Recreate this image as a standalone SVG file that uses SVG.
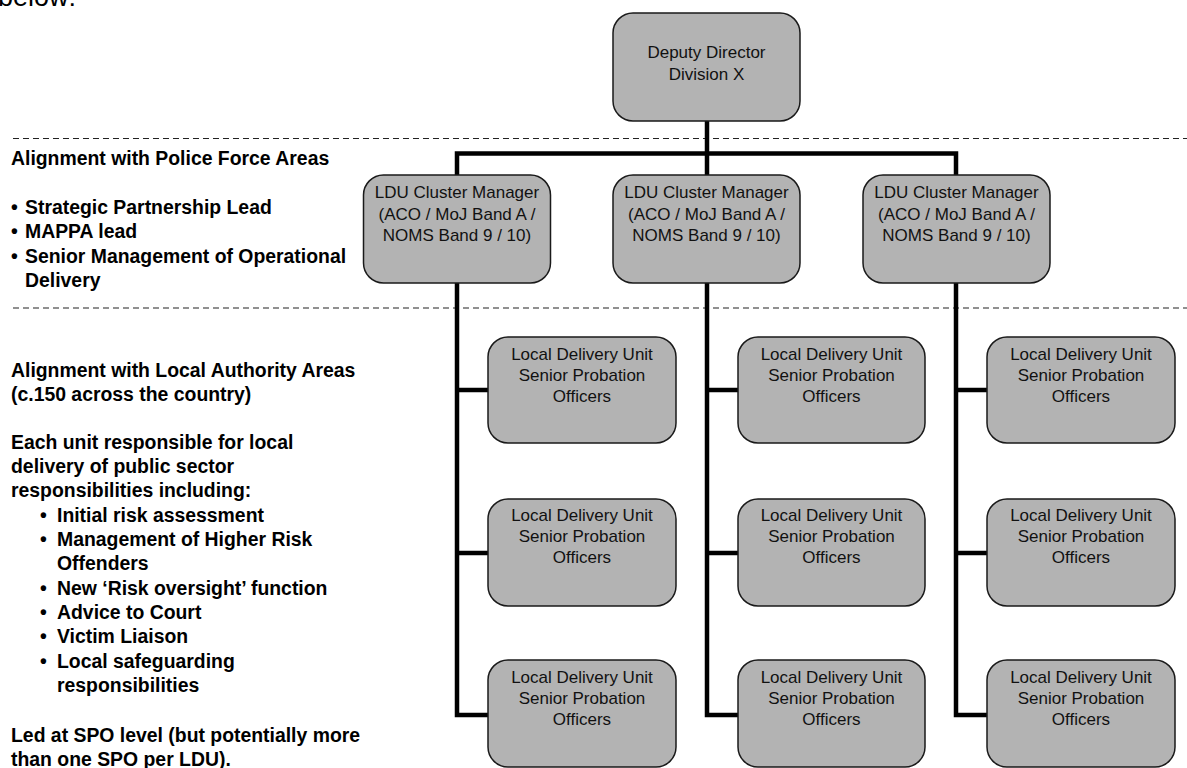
<svg xmlns="http://www.w3.org/2000/svg" width="1187" height="768" viewBox="0 0 1187 768">
<style>
.box{fill:#b3b3b3;stroke:#1a1a1a;stroke-width:1.5}
.bt{font-family:"Liberation Sans",Arial,sans-serif;font-size:17px;fill:#111;text-anchor:middle}
.lt{font-family:"Liberation Sans",Arial,sans-serif;font-size:19.4px;font-weight:bold;fill:#000}
.dash{stroke:#222;stroke-width:1.2;stroke-dasharray:6 4;fill:none}
.conn{stroke:#000;stroke-width:4.5;fill:none;stroke-linejoin:miter}
</style>
<rect width="1187" height="768" fill="#fff"/>
<text x="-2" y="6" font-family="'Liberation Sans',Arial,sans-serif" font-size="27" fill="#000">below:</text>
<g id="separators">
<line class="dash" x1="13" y1="138.5" x2="1187" y2="138.5"/>
<line class="dash" x1="13" y1="308" x2="1187" y2="308"/>
</g>
<g id="left-notes">
<text class="lt" x="11" y="165">Alignment with Police Force Areas</text>
<text class="lt" x="11" y="214">•</text><text class="lt" x="25" y="214">Strategic Partnership Lead</text>
<text class="lt" x="11" y="238">•</text><text class="lt" x="25" y="238">MAPPA lead</text>
<text class="lt" x="11" y="263">•</text><text class="lt" x="25" y="263">Senior Management of Operational</text>
<text class="lt" x="25" y="287">Delivery</text>
<text class="lt" x="11" y="377">Alignment with Local Authority Areas</text>
<text class="lt" x="11" y="401">(c.150 across the country)</text>
<text class="lt" x="11" y="449">Each unit responsible for local</text>
<text class="lt" x="11" y="473">delivery of public sector</text>
<text class="lt" x="11" y="497">responsibilities including:</text>
<text class="lt" x="40" y="522">•</text><text class="lt" x="57" y="522">Initial risk assessment</text>
<text class="lt" x="40" y="546">•</text><text class="lt" x="57" y="546">Management of Higher Risk</text>
<text class="lt" x="57" y="570">Offenders</text>
<text class="lt" x="40" y="595">•</text><text class="lt" x="57" y="595">New ‘Risk oversight’ function</text>
<text class="lt" x="40" y="619">•</text><text class="lt" x="57" y="619">Advice to Court</text>
<text class="lt" x="40" y="643">•</text><text class="lt" x="57" y="643">Victim Liaison</text>
<text class="lt" x="40" y="668">•</text><text class="lt" x="57" y="668">Local safeguarding</text>
<text class="lt" x="57" y="692">responsibilities</text>
<text class="lt" x="11" y="742">Led at SPO level (but potentially more</text>
<text class="lt" x="11" y="766">than one SPO per LDU).</text>
</g>
<g id="connectors">
<line class="conn" x1="707" y1="120" x2="707" y2="153.5"/>
<polyline class="conn" points="457,176 457,153.5 956,153.5 956,176"/>
<line class="conn" x1="707" y1="153.5" x2="707" y2="176"/>
<polyline class="conn" points="488,390 457,390"/>
<polyline class="conn" points="488,553 457,553"/>
<polyline class="conn" points="457,282 457,715 488,715"/>
<polyline class="conn" points="738,390 707,390"/>
<polyline class="conn" points="738,553 707,553"/>
<polyline class="conn" points="707,282 707,715 738,715"/>
<polyline class="conn" points="987,390 956,390"/>
<polyline class="conn" points="987,553 956,553"/>
<polyline class="conn" points="956,282 956,715 987,715"/>
</g>
<g id="deputy-director">
<rect class="box" x="613" y="13" width="187" height="108" rx="20"/>
<text class="bt" x="706.5" y="58">Deputy Director</text>
<text class="bt" x="706.5" y="80">Division X</text>
</g>
<g id="cluster-1">
<rect class="box" x="363.5" y="175" width="187" height="108" rx="20"/>
<text class="bt" x="457" y="198">LDU Cluster Manager</text>
<text class="bt" x="457" y="219.5">(ACO / MoJ Band A /</text>
<text class="bt" x="457" y="241">NOMS Band 9 / 10)</text>
</g>
<g id="cluster-2">
<rect class="box" x="613" y="175" width="187" height="108" rx="20"/>
<text class="bt" x="706.5" y="198">LDU Cluster Manager</text>
<text class="bt" x="706.5" y="219.5">(ACO / MoJ Band A /</text>
<text class="bt" x="706.5" y="241">NOMS Band 9 / 10)</text>
</g>
<g id="cluster-3">
<rect class="box" x="863" y="175" width="187" height="108" rx="20"/>
<text class="bt" x="956.5" y="198">LDU Cluster Manager</text>
<text class="bt" x="956.5" y="219.5">(ACO / MoJ Band A /</text>
<text class="bt" x="956.5" y="241">NOMS Band 9 / 10)</text>
</g>
<g id="ldu-1-1"><rect class="box" x="488" y="337" width="188" height="106" rx="20"/>
<text class="bt" x="582" y="360">Local Delivery Unit</text><text class="bt" x="582" y="381">Senior Probation</text><text class="bt" x="582" y="402">Officers</text></g>
<g id="ldu-1-2"><rect class="box" x="488" y="499" width="188" height="107" rx="20"/>
<text class="bt" x="582" y="521">Local Delivery Unit</text><text class="bt" x="582" y="542">Senior Probation</text><text class="bt" x="582" y="563">Officers</text></g>
<g id="ldu-1-3"><rect class="box" x="488" y="660" width="188" height="107" rx="20"/>
<text class="bt" x="582" y="683">Local Delivery Unit</text><text class="bt" x="582" y="704">Senior Probation</text><text class="bt" x="582" y="725">Officers</text></g>
<g id="ldu-2-1"><rect class="box" x="738" y="337" width="187" height="106" rx="20"/>
<text class="bt" x="831.5" y="360">Local Delivery Unit</text><text class="bt" x="831.5" y="381">Senior Probation</text><text class="bt" x="831.5" y="402">Officers</text></g>
<g id="ldu-2-2"><rect class="box" x="738" y="499" width="187" height="107" rx="20"/>
<text class="bt" x="831.5" y="521">Local Delivery Unit</text><text class="bt" x="831.5" y="542">Senior Probation</text><text class="bt" x="831.5" y="563">Officers</text></g>
<g id="ldu-2-3"><rect class="box" x="738" y="660" width="187" height="107" rx="20"/>
<text class="bt" x="831.5" y="683">Local Delivery Unit</text><text class="bt" x="831.5" y="704">Senior Probation</text><text class="bt" x="831.5" y="725">Officers</text></g>
<g id="ldu-3-1"><rect class="box" x="987" y="337" width="188" height="106" rx="20"/>
<text class="bt" x="1081" y="360">Local Delivery Unit</text><text class="bt" x="1081" y="381">Senior Probation</text><text class="bt" x="1081" y="402">Officers</text></g>
<g id="ldu-3-2"><rect class="box" x="987" y="499" width="188" height="107" rx="20"/>
<text class="bt" x="1081" y="521">Local Delivery Unit</text><text class="bt" x="1081" y="542">Senior Probation</text><text class="bt" x="1081" y="563">Officers</text></g>
<g id="ldu-3-3"><rect class="box" x="987" y="660" width="188" height="107" rx="20"/>
<text class="bt" x="1081" y="683">Local Delivery Unit</text><text class="bt" x="1081" y="704">Senior Probation</text><text class="bt" x="1081" y="725">Officers</text></g>
</svg>
